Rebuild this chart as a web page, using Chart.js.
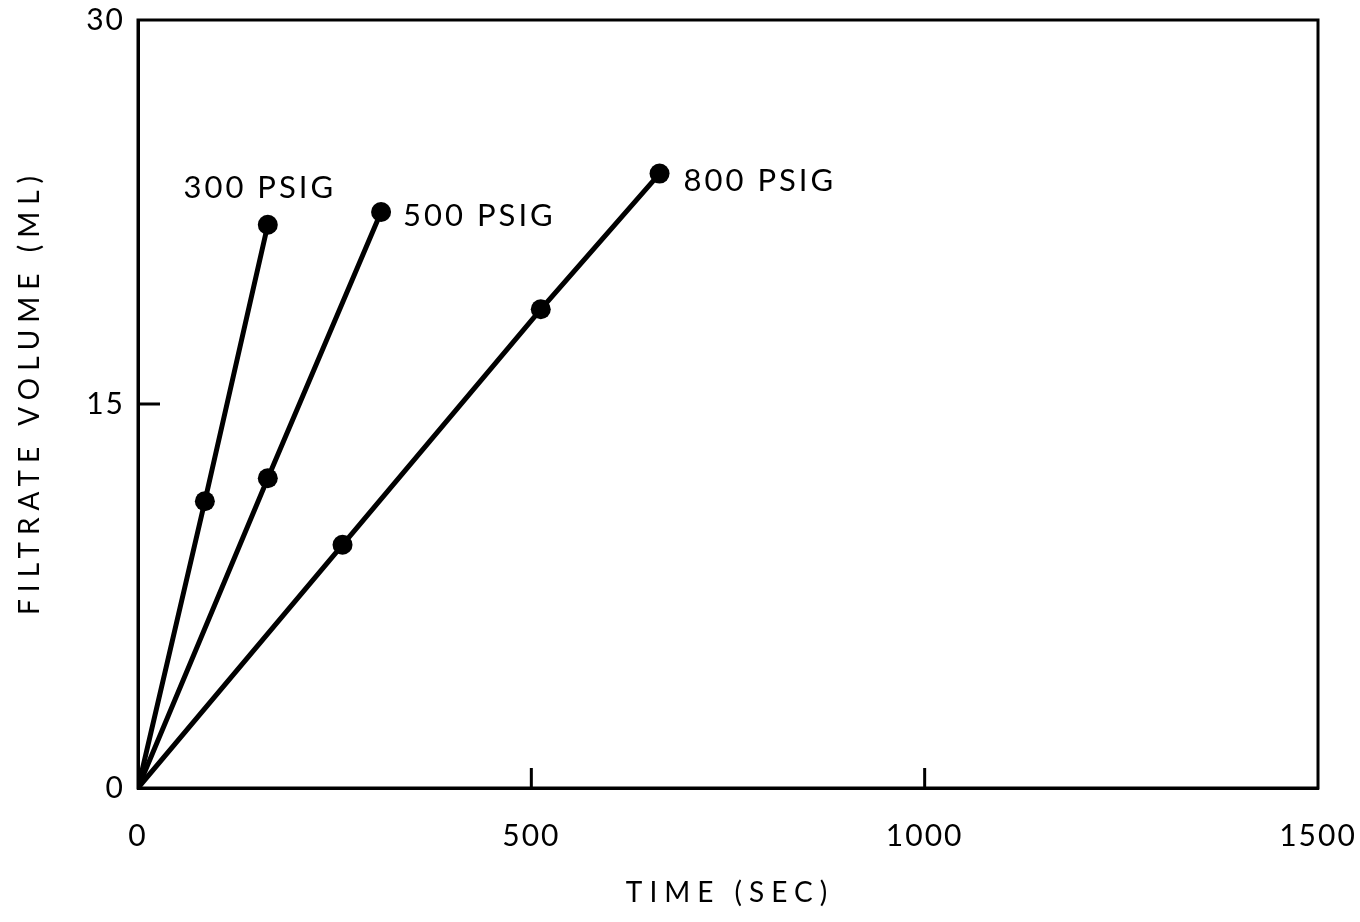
<!DOCTYPE html>
<html>
<head>
<meta charset="utf-8">
<script src="https://cdn.jsdelivr.net/npm/chart.js@4.4.1/dist/chart.umd.min.js"></script>
<style>
  html, body { margin: 0; padding: 0; background: #fff; }
</style>
</head>
<body>
<canvas id="filtrate-chart" width="1360" height="922"></canvas>
<script>
// filtrate volume vs time, one run per pressure
const seriesLabels = ['300 PSIG', '500 PSIG', '800 PSIG'];
const time300 = [0, 85, 165];
const vol300 = [0, 11.2, 22.0];
const time500 = [0, 165, 309];
const vol500 = [0, 12.1, 22.5];
const time800 = [0, 260, 512, 663];
const vol800 = [0, 9.5, 18.7, 24.0];
const xTicks = [0, 500, 1000, 1500];
const yTicks = [0, 15, 30];
const xTitle = 'TIME (SEC)';
const yTitle = 'FILTRATE VOLUME (ML)';

const FONT = "Lato";

function toPoints(xs, ys) {
  return xs.map((x, i) => ({ x: x, y: ys[i] }));
}

function lineSet(label, xs, ys) {
  return {
    label: label,
    data: toPoints(xs, ys),
    showLine: true,
    borderColor: '#000',
    backgroundColor: '#000',
    borderWidth: 5,
    // no marker at the origin
    pointRadius: xs.map((x) => (x === 0 ? 0 : 10)),
    pointHoverRadius: xs.map((x) => (x === 0 ? 0 : 10)),
    pointBorderWidth: 0
  };
}

// short inward ticks at the interior tick values
const innerTicks = {
  id: 'innerTicks',
  afterDatasetsDraw(chart) {
    const { ctx, chartArea, scales } = chart;
    ctx.save();
    ctx.strokeStyle = '#000';
    ctx.lineWidth = 3;
    ctx.beginPath();
    xTicks.slice(1, -1).forEach((v) => {
      const px = scales.x.getPixelForValue(v);
      ctx.moveTo(px, chartArea.bottom);
      ctx.lineTo(px, chartArea.bottom - 20);
    });
    yTicks.slice(1, -1).forEach((v) => {
      const py = scales.y.getPixelForValue(v);
      ctx.moveTo(chartArea.left, py);
      ctx.lineTo(chartArea.left + 22, py);
    });
    ctx.stroke();
    ctx.restore();
  }
};

// pressure label next to the last point of each run
const endLabels = {
  id: 'endLabels',
  afterDatasetsDraw(chart, args, opts) {
    const { ctx } = chart;
    ctx.save();
    ctx.fillStyle = '#000';
    ctx.font = opts.font;
    ctx.letterSpacing = '3px';
    ctx.textBaseline = 'middle';
    chart.data.datasets.forEach((ds, i) => {
      const pts = chart.getDatasetMeta(i).data;
      const last = pts[pts.length - 1];
      const o = opts.offsets[i];
      ctx.textAlign = o.align;
      ctx.fillText(ds.label, last.x + o.dx, last.y + o.dy);
    });
    ctx.restore();
  }
};

// widely spaced axis titles
const axisTitles = {
  id: 'axisTitles',
  afterDraw(chart) {
    const { ctx, chartArea: a } = chart;
    ctx.save();
    ctx.fillStyle = '#000';
    ctx.font = '28px ' + FONT;
    ctx.letterSpacing = '7px';
    ctx.textAlign = 'center';
    ctx.textBaseline = 'middle';
    ctx.fillText(xTitle, (a.left + a.right) / 2 + 2, 893);
    ctx.translate(30, (a.top + a.bottom) / 2 - 12);
    ctx.rotate(-Math.PI / 2);
    ctx.fillText(yTitle, 0, 0);
    ctx.restore();
  }
};

const spacing = {
  id: 'spacing',
  beforeDraw(chart) {
    chart.ctx.letterSpacing = '2px';
  }
};

const frame = {
  id: 'frame',
  afterDraw(chart) {
    const { ctx, chartArea: a } = chart;
    ctx.save();
    ctx.strokeStyle = '#000';
    ctx.lineWidth = 3;
    ctx.strokeRect(a.left, a.top, a.right - a.left, a.bottom - a.top);
    ctx.restore();
  }
};

const ctx = document.getElementById('filtrate-chart').getContext('2d');
new Chart(ctx, {
  type: 'scatter',
  data: {
    datasets: [
      lineSet(seriesLabels[0], time300, vol300),
      lineSet(seriesLabels[1], time500, vol500),
      lineSet(seriesLabels[2], time800, vol800)
    ]
  },
  options: {
    responsive: false,
    animation: false,
    devicePixelRatio: 1,
    layout: {
      padding: { left: 0, right: 42, top: 20, bottom: 0 }
    },
    plugins: {
      legend: { display: false },
      tooltip: { enabled: false },
      endLabels: {
        font: '31px ' + FONT,
        offsets: [
          { dx: -8, dy: -37, align: 'center' },
          { dx: 22, dy: 4, align: 'left' },
          { dx: 24, dy: 7, align: 'left' }
        ]
      }
    },
    scales: {
      x: {
        type: 'linear',
        min: 0,
        max: 1500,
        afterBuildTicks(scale) {
          scale.ticks = xTicks.map((v) => ({ value: v }));
        },
        afterFit(scale) {
          scale.height = 134;
          scale.paddingLeft = 0;
          scale.paddingRight = 0;
        },
        border: { display: true, color: '#000', width: 3 },
        grid: { display: false, drawTicks: false },
        ticks: {
          padding: 30,
          color: '#000',
          font: { family: FONT, size: 30 },
          callback: (v) => String(v)
        }
      },
      y: {
        type: 'linear',
        min: 0,
        max: 30,
        afterBuildTicks(scale) {
          scale.ticks = yTicks.map((v) => ({ value: v }));
        },
        afterFit(scale) {
          scale.width = 138;
          scale.paddingTop = 0;
          scale.paddingBottom = 0;
        },
        border: { display: true, color: '#000', width: 3 },
        grid: { display: false, drawTicks: false },
        ticks: {
          padding: 13,
          color: '#000',
          font: { family: FONT, size: 30 },
          callback: (v) => String(v)
        }
      }
    }
  },
  plugins: [spacing, innerTicks, endLabels, axisTitles, frame]
});
</script>
</body>
</html>
